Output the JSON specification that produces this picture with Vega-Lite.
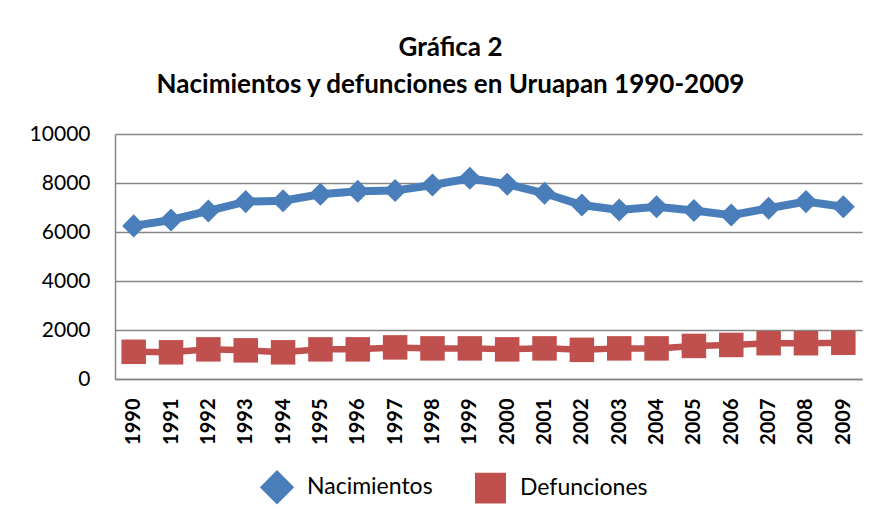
{
  "$schema": "https://vega.github.io/schema/vega-lite/v6.json",
  "width": 747,
  "height": 245,
  "autosize": {"type": "none"},
  "padding": {"left": 115, "top": 134, "right": 15, "bottom": 140},
  "background": "white",
  "config": {"font": "Lato", "view": {"stroke": null}},
  "title": {
    "text": ["Gráfica 2", "Nacimientos y defunciones en Uruapan 1990-2009"],
    "fontSize": 26,
    "fontWeight": "bold",
    "font": "Lato",
    "color": "black",
    "lineHeight": 37,
    "anchor": "middle",
    "dx": -38,
    "offset": 25
  },
  "data": {
    "values": [
      {"year": "1990", "serie": "Nacimientos", "valor": 6250},
      {"year": "1991", "serie": "Nacimientos", "valor": 6490},
      {"year": "1992", "serie": "Nacimientos", "valor": 6860},
      {"year": "1993", "serie": "Nacimientos", "valor": 7240},
      {"year": "1994", "serie": "Nacimientos", "valor": 7280},
      {"year": "1995", "serie": "Nacimientos", "valor": 7540},
      {"year": "1996", "serie": "Nacimientos", "valor": 7660},
      {"year": "1997", "serie": "Nacimientos", "valor": 7690},
      {"year": "1998", "serie": "Nacimientos", "valor": 7920},
      {"year": "1999", "serie": "Nacimientos", "valor": 8190},
      {"year": "2000", "serie": "Nacimientos", "valor": 7950},
      {"year": "2001", "serie": "Nacimientos", "valor": 7580},
      {"year": "2002", "serie": "Nacimientos", "valor": 7100},
      {"year": "2003", "serie": "Nacimientos", "valor": 6900},
      {"year": "2004", "serie": "Nacimientos", "valor": 7030},
      {"year": "2005", "serie": "Nacimientos", "valor": 6880},
      {"year": "2006", "serie": "Nacimientos", "valor": 6690},
      {"year": "2007", "serie": "Nacimientos", "valor": 6970},
      {"year": "2008", "serie": "Nacimientos", "valor": 7240},
      {"year": "2009", "serie": "Nacimientos", "valor": 7030},
      {"year": "1990", "serie": "Defunciones", "valor": 1110},
      {"year": "1991", "serie": "Defunciones", "valor": 1090},
      {"year": "1992", "serie": "Defunciones", "valor": 1210},
      {"year": "1993", "serie": "Defunciones", "valor": 1170},
      {"year": "1994", "serie": "Defunciones", "valor": 1090},
      {"year": "1995", "serie": "Defunciones", "valor": 1210},
      {"year": "1996", "serie": "Defunciones", "valor": 1210},
      {"year": "1997", "serie": "Defunciones", "valor": 1290},
      {"year": "1998", "serie": "Defunciones", "valor": 1250},
      {"year": "1999", "serie": "Defunciones", "valor": 1250},
      {"year": "2000", "serie": "Defunciones", "valor": 1210},
      {"year": "2001", "serie": "Defunciones", "valor": 1250},
      {"year": "2002", "serie": "Defunciones", "valor": 1190},
      {"year": "2003", "serie": "Defunciones", "valor": 1250},
      {"year": "2004", "serie": "Defunciones", "valor": 1250},
      {"year": "2005", "serie": "Defunciones", "valor": 1350},
      {"year": "2006", "serie": "Defunciones", "valor": 1390},
      {"year": "2007", "serie": "Defunciones", "valor": 1460},
      {"year": "2008", "serie": "Defunciones", "valor": 1460},
      {"year": "2009", "serie": "Defunciones", "valor": 1480}
    ]
  },
  "encoding": {
    "x": {
      "field": "year",
      "type": "ordinal",
      "scale": {"type": "point", "padding": 0.5},
      "axis": {
        "title": null,
        "labelAngle": -90,
        "labelFontWeight": "bold",
        "labelFontSize": 20,
        "labelColor": "black",
        "labelPadding": 19,
        "ticks": false,
        "tickSize": 0,
        "domainColor": "#868686",
        "domainWidth": 1.5,
        "grid": false
      }
    },
    "y": {
      "field": "valor",
      "type": "quantitative",
      "scale": {"domain": [0, 10000]},
      "axis": {
        "title": null,
        "format": "d",
        "values": [0, 2000, 4000, 6000, 8000, 10000],
        "labelFontSize": 21,
        "labelColor": "black",
        "labelPadding": 25,
        "ticks": false,
        "tickSize": 0,
        "domainColor": "#868686",
        "domainWidth": 1.5,
        "gridColor": "#868686",
        "gridWidth": 1.3,
        "gridOpacity": 1
      }
    },
    "color": {
      "field": "serie",
      "type": "nominal",
      "scale": {"domain": ["Nacimientos", "Defunciones"], "range": ["#4A7EBB", "#C0504D"]},
      "legend": {
        "orient": "none",
        "legendX": 146,
        "legendY": 337,
        "direction": "horizontal",
        "title": null,
        "labelFontSize": 23,
        "labelFont": "Lato",
        "labelColor": "black",
        "labelOffset": 14,
        "columnPadding": 32,
        "symbolSize": 500,
        "symbolStrokeWidth": 0
      }
    }
  },
  "layer": [
    {
      "mark": {"type": "line"},
      "encoding": {
        "strokeWidth": {
          "field": "serie",
          "type": "nominal",
          "scale": {"domain": ["Nacimientos", "Defunciones"], "range": [8, 6.5]},
          "legend": null
        }
      }
    },
    {
      "mark": {"type": "point", "filled": true, "opacity": 1},
      "encoding": {
        "shape": {
          "field": "serie",
          "type": "nominal",
          "scale": {"domain": ["Nacimientos", "Defunciones"], "range": ["diamond", "square"]},
          "legend": null
        },
        "size": {
          "field": "serie",
          "type": "nominal",
          "scale": {"domain": ["Nacimientos", "Defunciones"], "range": [530, 600]},
          "legend": null
        }
      }
    }
  ]
}
